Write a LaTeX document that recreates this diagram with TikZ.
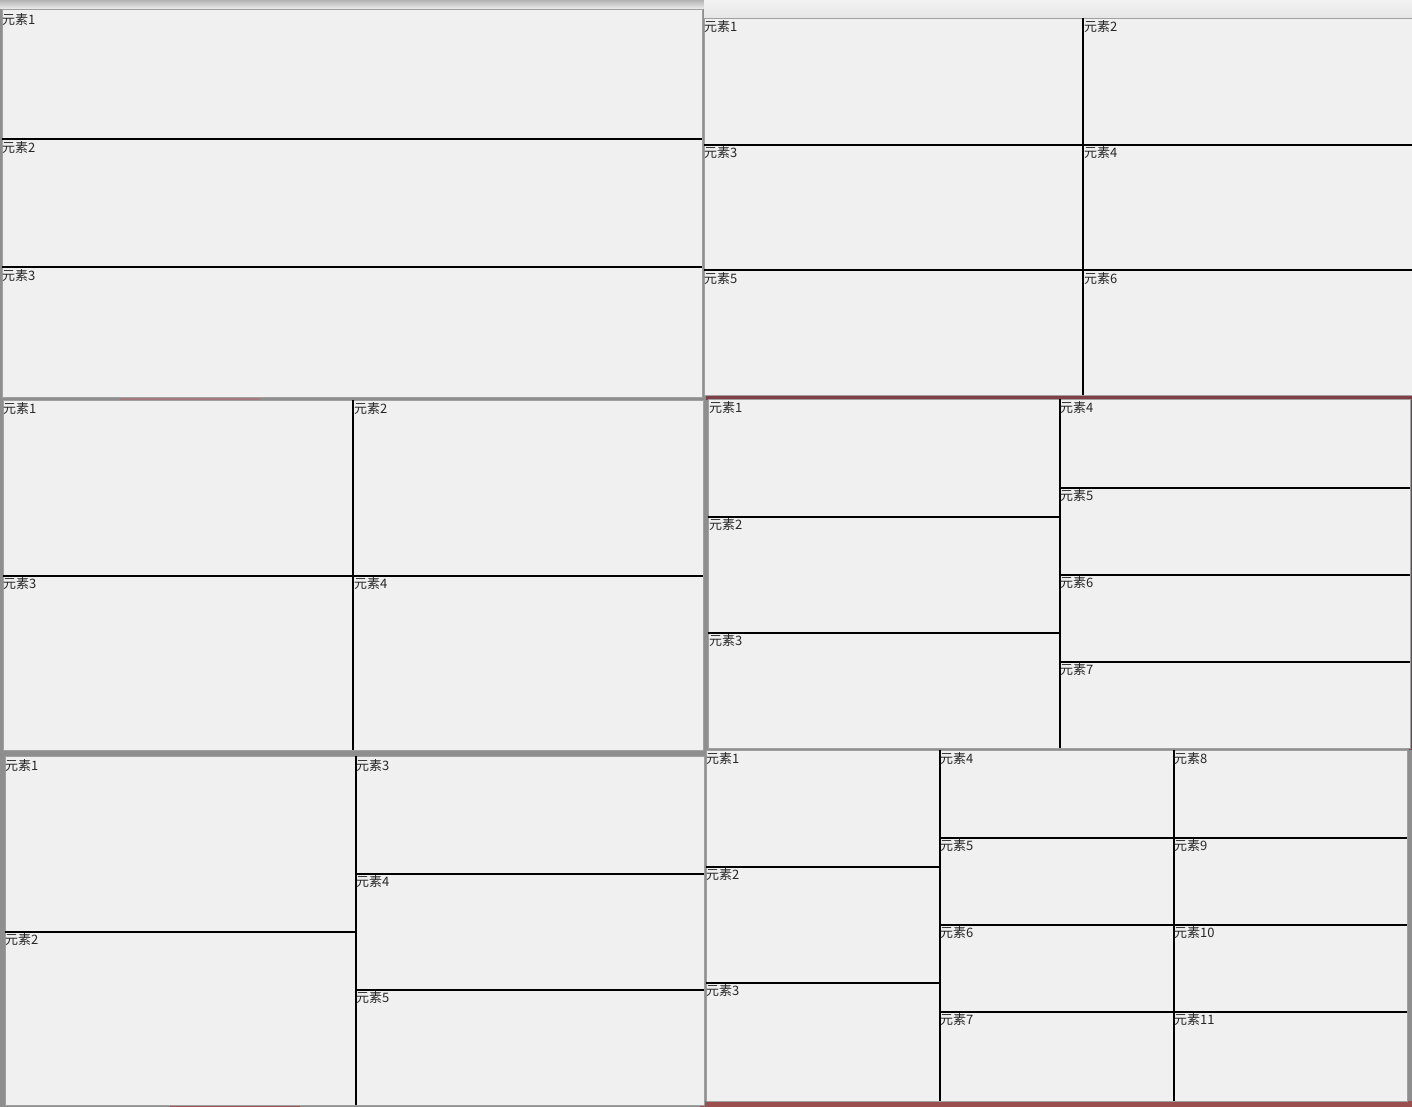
\documentclass[tikz,border=0pt]{standalone}
\usepackage{fontspec}
\newfontfamily\cjk{Noto Sans CJK SC}
\definecolor{panelgray}{HTML}{F0F0F0}
\definecolor{bordergray}{HTML}{A0A0A0}
\definecolor{bggray}{HTML}{8E8E8E}
\definecolor{darkred}{HTML}{7E4046}
\definecolor{brightred}{HTML}{A83A3A}
\begin{document}
\begin{tikzpicture}[x=1pt,y=-1pt,
  panel/.style={fill=panelgray,draw=bordergray,line width=0.8pt},
  divider/.style={draw=black,line width=1.6pt},
  lbl/.style={anchor=west,inner sep=0pt,font=\cjk\fontsize{13}{15}\selectfont,text=black!85}]
\fill[bggray] (0,0) rectangle (1412,1107);
\useasboundingbox (0,0) rectangle (1412,1107);
% top light strip
\shade[top color=gray!60,bottom color=gray!15] (0,0) rectangle (704,9);
\shade[top color=gray!10,bottom color=gray!20] (704,0) rectangle (1412,18);
% reddish accents
\fill[darkred] (706,396) rectangle (1412,400);
\fill[darkred] (1409,396) rectangle (1412,750);
\fill[brightred!70!gray] (700,1101) rectangle (1412,1107);
\fill[brightred!60!gray] (170,1105) rectangle (300,1107);
\fill[darkred!70] (120,397) rectangle (260,400);
% panels
\draw[panel] (2,9) rectangle (702,397);
\draw[panel] (704,18) rectangle (1412,395);
\draw[panel] (3,400) rectangle (703,750);
\draw[panel] (708,399) rectangle (1410,748);
\draw[panel] (5,756) rectangle (704,1105);
\draw[panel] (706,750) rectangle (1407,1101);
% Panel A
\draw[divider] (2,139) -- (702,139);
\draw[divider] (2,267) -- (702,267);
\node[lbl] (a1) at (2,20) {元素1};
\node[lbl] (a2) at (2,148) {元素2};
\node[lbl] (a3) at (2,276) {元素3};
% Panel B
\draw[divider] (1083,18) -- (1083,395);
\draw[divider] (704,145) -- (1412,145);
\draw[divider] (704,270) -- (1412,270);
\node[lbl] (b1) at (704,27) {元素1};
\node[lbl] (b2) at (1084,27) {元素2};
\node[lbl] (b3) at (704,153) {元素3};
\node[lbl] (b4) at (1084,153) {元素4};
\node[lbl] (b5) at (704,279) {元素5};
\node[lbl] (b6) at (1084,279) {元素6};
% Panel C
\draw[divider] (353,400) -- (353,750);
\draw[divider] (3,576) -- (703,576);
\node[lbl] (c1) at (3,409) {元素1};
\node[lbl] (c2) at (354,409) {元素2};
\node[lbl] (c3) at (3,584) {元素3};
\node[lbl] (c4) at (354,584) {元素4};
% Panel D
\draw[divider] (1060,399) -- (1060,748);
\draw[divider] (708,517) -- (1060,517);
\draw[divider] (708,633) -- (1060,633);
\draw[divider] (1060,488) -- (1410,488);
\draw[divider] (1060,575) -- (1410,575);
\draw[divider] (1060,662) -- (1410,662);
\node[lbl] (d1) at (709,408) {元素1};
\node[lbl] (d2) at (709,525) {元素2};
\node[lbl] (d3) at (709,641) {元素3};
\node[lbl] (d4) at (1060,408) {元素4};
\node[lbl] (d5) at (1060,496) {元素5};
\node[lbl] (d6) at (1060,583) {元素6};
\node[lbl] (d7) at (1060,670) {元素7};
% Panel E
\draw[divider] (356,756) -- (356,1105);
\draw[divider] (5,932) -- (356,932);
\draw[divider] (356,874) -- (704,874);
\draw[divider] (356,990) -- (704,990);
\node[lbl] (e1) at (5,766) {元素1};
\node[lbl] (e2) at (5,940) {元素2};
\node[lbl] (e3) at (356,766) {元素3};
\node[lbl] (e4) at (356,882) {元素4};
\node[lbl] (e5) at (356,998) {元素5};
% Panel F
\draw[divider] (940,750) -- (940,1101);
\draw[divider] (1174,750) -- (1174,1101);
\draw[divider] (706,867) -- (940,867);
\draw[divider] (706,983) -- (940,983);
\draw[divider] (940,838) -- (1407,838);
\draw[divider] (940,925) -- (1407,925);
\draw[divider] (940,1012) -- (1407,1012);
\node[lbl] (f1) at (706,759) {元素1};
\node[lbl] (f2) at (706,875) {元素2};
\node[lbl] (f3) at (706,991) {元素3};
\node[lbl] (f4) at (940,759) {元素4};
\node[lbl] (f5) at (940,846) {元素5};
\node[lbl] (f6) at (940,933) {元素6};
\node[lbl] (f7) at (940,1020) {元素7};
\node[lbl] (f8) at (1174,759) {元素8};
\node[lbl] (f9) at (1174,846) {元素9};
\node[lbl] (f10) at (1174,933) {元素10};
\node[lbl] (f11) at (1174,1020) {元素11};
\end{tikzpicture}
\end{document}
